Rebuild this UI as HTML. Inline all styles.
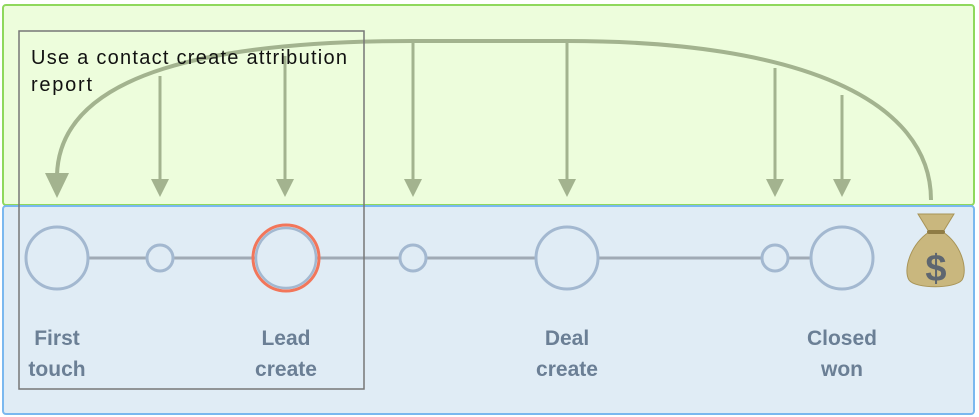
<!DOCTYPE html>
<html><head><meta charset="utf-8"><style>
html,body{margin:0;padding:0;background:#fff;}
svg{display:block;}
</style></head><body>
<svg width="979" height="417" viewBox="0 0 979 417" xmlns="http://www.w3.org/2000/svg">
<rect x="3" y="5" width="971" height="200" rx="3" fill="#edfddc" stroke="#8fd85c" stroke-width="2"/>
<rect x="3" y="206" width="971" height="208" rx="3" fill="#e0ecf5" stroke="#7ab8ef" stroke-width="2"/>
<g stroke="#a3b38f" fill="none" stroke-width="4">
<path d="M931,200 C931,100 800,41 567,41 L413,41 C220,41 60,70 57,175"/>
</g>
<g stroke="#a3b38f" stroke-width="3">
<line x1="160" y1="76" x2="160" y2="182"/>
<line x1="285" y1="56" x2="285" y2="182"/>
<line x1="413" y1="41" x2="413" y2="182"/>
<line x1="567" y1="41" x2="567" y2="182"/>
<line x1="775" y1="68" x2="775" y2="182"/>
<line x1="842" y1="95" x2="842" y2="182"/>
</g>
<g fill="#a3b38f">
<polygon points="45,173 69,173 57,198"/>
<polygon points="151,179 169,179 160,197"/>
<polygon points="276,179 294,179 285,197"/>
<polygon points="404,179 422,179 413,197"/>
<polygon points="558,179 576,179 567,197"/>
<polygon points="766,179 784,179 775,197"/>
<polygon points="833,179 851,179 842,197"/>
</g>
<line x1="57" y1="258" x2="842" y2="258" stroke="#a0aab5" stroke-width="3"/>
<g fill="#e0ecf5" stroke="#a3b8d0" stroke-width="3">
<circle cx="57" cy="258" r="31"/>
<circle cx="160" cy="258" r="13"/>
<circle cx="413" cy="258" r="13"/>
<circle cx="567" cy="258" r="31"/>
<circle cx="775" cy="258" r="13"/>
<circle cx="842" cy="258" r="31"/>
</g>
<circle cx="286" cy="258" r="33" fill="none" stroke="#f2765a" stroke-width="3"/>
<circle cx="286" cy="258" r="30" fill="#e0ecf5" stroke="#a3b8d0" stroke-width="2.5"/>
<rect x="19" y="31" width="345" height="358" fill="none" stroke="#777" stroke-width="1.5"/>
<text x="31" y="64" font-family="Liberation Sans, sans-serif" font-size="20" fill="#111" textLength="316" lengthAdjust="spacing">Use a contact create attribution</text>
<text x="31" y="91" font-family="Liberation Sans, sans-serif" font-size="20" fill="#111" textLength="61" lengthAdjust="spacing">report</text>
<g font-family="Liberation Sans, sans-serif" font-size="21" font-weight="bold" fill="#6b7f95" text-anchor="middle">
<text x="57" y="345">First</text><text x="57" y="376">touch</text>
<text x="286" y="345">Lead</text><text x="286" y="376">create</text>
<text x="567" y="345">Deal</text><text x="567" y="376">create</text>
<text x="842" y="345">Closed</text><text x="842" y="376">won</text>
</g>
<path d="M918,214 L954,214 L943,232 C962,245 968,270 962,280 C955,289 915,289 909,280 C903,270 910,245 929,232 Z" fill="#c9b77e" stroke="#a89457" stroke-width="1"/>
<rect x="927" y="230" width="18" height="4" rx="2" fill="#8f7c45"/>
<text x="936" y="281" font-family="Liberation Sans, sans-serif" font-size="38" font-weight="bold" fill="#5e6670" text-anchor="middle">$</text>
</svg>
</body></html>
